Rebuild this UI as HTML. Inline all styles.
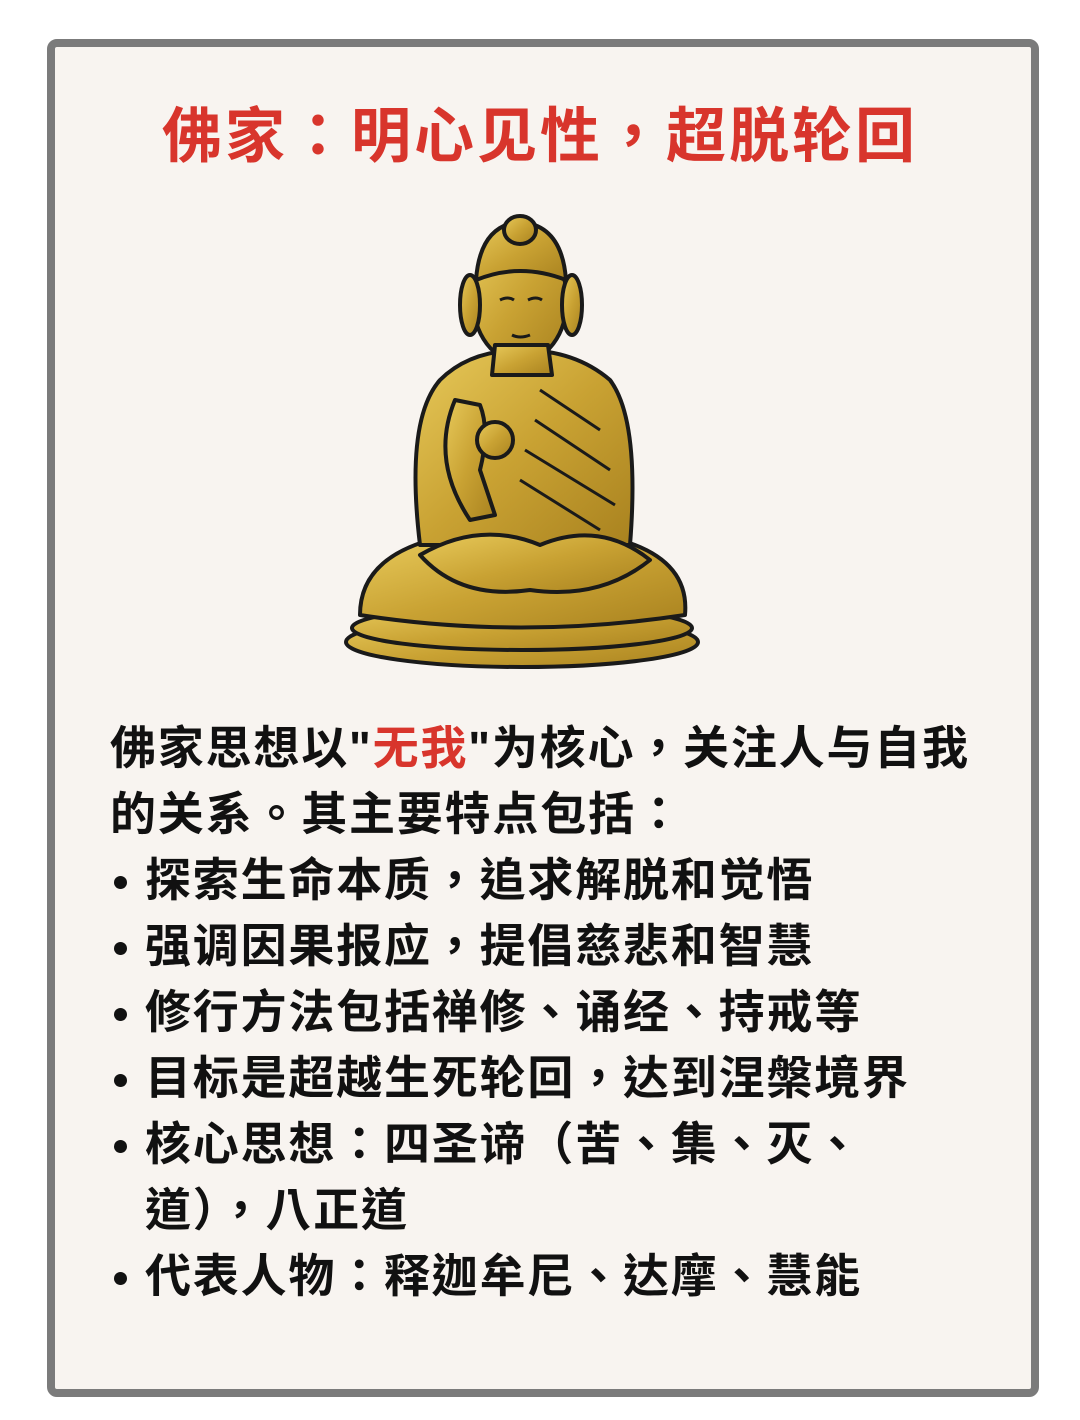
<!DOCTYPE html>
<html><head><meta charset="utf-8"><style>
html,body{margin:0;padding:0;background:#fff;}
body{width:1080px;height:1420px;position:relative;overflow:hidden;font-family:"Liberation Sans","Noto Sans CJK TC",sans-serif;}
#card{position:absolute;left:47px;top:39px;width:976px;height:1342px;border:8px solid #7b7b7b;border-radius:10px;background:#f8f4f0;}
#title{position:absolute;left:0;top:100px;width:1080px;text-align:center;color:#d8352c;font-weight:bold;font-size:60px;line-height:74px;letter-spacing:3px;}
#body{position:absolute;left:110px;top:715px;font-weight:bold;font-size:46px;line-height:66px;color:#111;letter-spacing:1.8px;}
.red{color:#d8352c;}
.li{position:relative;padding-left:35px;}
.li:before{content:"";position:absolute;left:4px;top:29px;width:13px;height:13px;border-radius:50%;background:#111;}
</style></head><body>
<div id="card"></div>
<div id="title">佛家：明心见性，超脱轮回</div>
<svg style="position:absolute;left:0;top:0" width="1080" height="700">
<defs><linearGradient id="g" x1="0" y1="0" x2="1" y2="1"><stop offset="0" stop-color="#e7c95a"/><stop offset="0.5" stop-color="#c9a233"/><stop offset="1" stop-color="#a9821f"/></linearGradient></defs>
<g stroke="#1a1a1a" stroke-width="4" fill="url(#g)" stroke-linejoin="round">
<ellipse cx="522" cy="642" rx="176" ry="25"/>
<ellipse cx="522" cy="628" rx="170" ry="22"/>
<path d="M360 615 Q360 560 430 540 L620 540 Q690 560 685 615 Q520 640 360 615Z"/>
<path d="M440 380 Q470 350 522 350 Q575 350 610 380 Q640 420 630 545 L420 545 Q405 420 440 380Z"/>
<path d="M455 400 Q430 460 470 520 L495 515 L480 470 Q490 430 480 405Z"/>
<circle cx="495" cy="440" r="18"/>
<path d="M420 555 Q480 520 540 545 Q600 520 650 560 Q600 600 530 590 Q460 600 420 555Z"/>
<ellipse cx="520" cy="300" rx="47" ry="62"/>
<ellipse cx="470" cy="305" rx="10" ry="30"/>
<ellipse cx="572" cy="305" rx="10" ry="30"/>
<path d="M476 280 Q480 225 520 222 Q562 225 566 280 Q520 262 476 280Z"/>
<ellipse cx="520" cy="230" rx="16" ry="14"/>
<path d="M495 345 L548 345 L552 375 L492 375Z"/>
</g>
<g stroke="#1a1a1a" stroke-width="3" fill="none">
<path d="M540 390 L600 430 M535 420 L610 470 M525 450 L615 505 M520 480 L600 530"/>
<path d="M500 300 q8 -4 14 0 M528 300 q8 -4 14 0 M512 335 q8 4 18 0"/>
</g>
</svg>
<div id="body">
<div>佛家思想以"<span class="red">无我</span>"为核心，关注人与自我</div>
<div>的关系。其主要特点包括：</div>
<div class="li">探索生命本质，追求解脱和觉悟</div>
<div class="li">强调因果报应，提倡慈悲和智慧</div>
<div class="li">修行方法包括禅修、诵经、持戒等</div>
<div class="li">目标是超越生死轮回，达到涅槃境界</div>
<div class="li">核心思想：四圣谛（苦、集、灭、<br>道），八正道</div>
<div class="li">代表人物：释迦牟尼、达摩、慧能</div>
</div>
</body></html>
